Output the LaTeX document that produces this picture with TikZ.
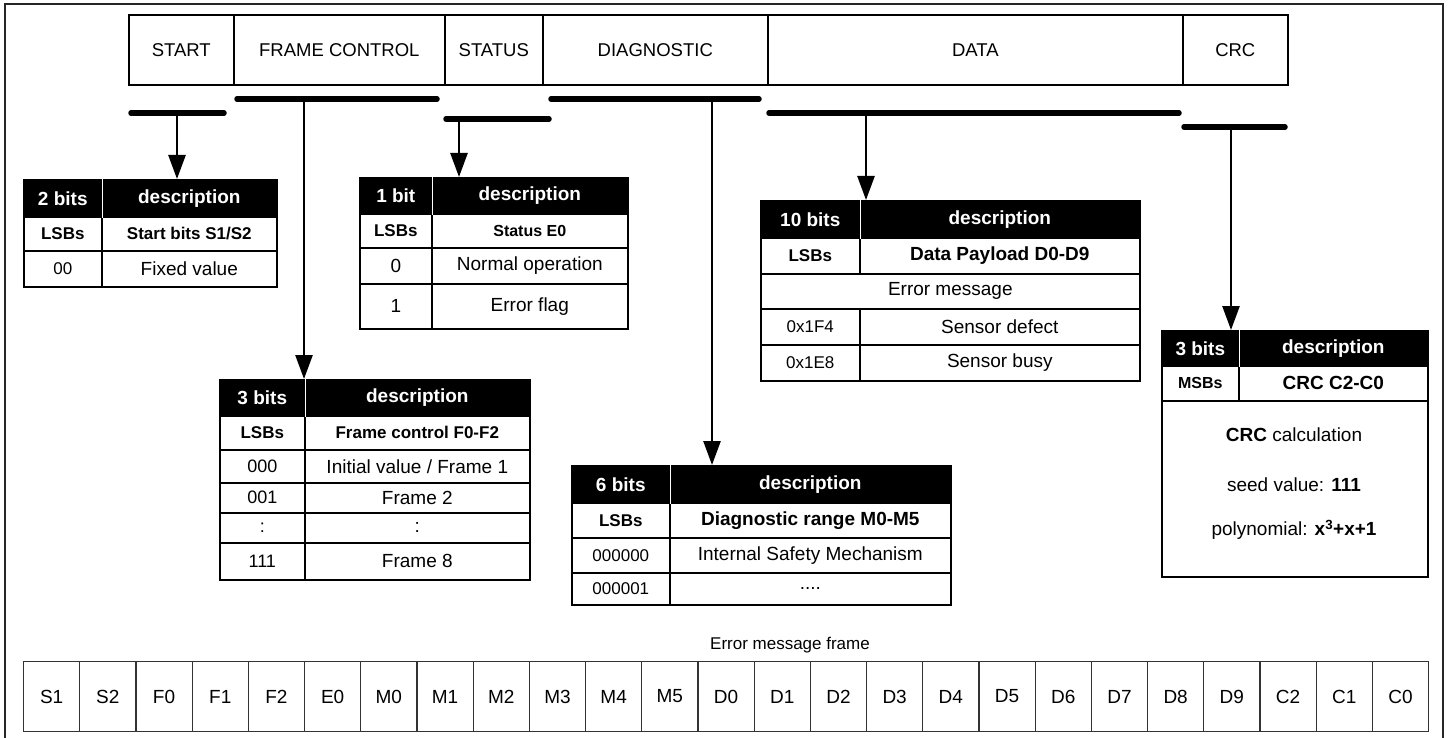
\documentclass[tikz,border=0pt]{standalone}
\usepackage{fontspec}
\setmainfont{Liberation Sans}
\usetikzlibrary{arrows.meta}
\newcommand\fs[1]{\fontsize{#1pt}{#1pt}\selectfont}
\newcommand\cell[7][]{\node[box,#1,minimum width={(#5-#3)*1pt},minimum height={(#6-#4)*1pt}] (#2) at (#3,#4) {#7};}
\tikzset{
  box/.style={draw=black, line width=1.6pt, inner sep=0pt, anchor=north west, font=\fs{19}},
  hdr/.style={fill=black, text=white, font=\fs{19}\bfseries},
  sub/.style={font=\fs{17}\bfseries},
  subb/.style={font=\fs{19}\bfseries},
  code/.style={font=\fs{17}},
  top/.style={box, line width=1.6pt, font=\fs{18.5}},
  bcell/.style={draw=black!80, line width=1.1pt, inner sep=0pt, anchor=north west, font=\fs{19}, minimum width=56.2pt, minimum height=70pt},
  bar/.style={line width=5.5pt, line cap=round},
  arr/.style={line width=2.6pt, -{Triangle[length=24pt,width=17pt]}},
  sep/.style={white, line width=1.4pt},
  txt/.style={font=\fs{19}, inner sep=0pt}
}
\begin{document}
\begin{tikzpicture}[x=1pt,y=-1pt]
\useasboundingbox (0,0) rectangle (1451,738);
% outer frame
\draw[black!85, line width=1.5pt] (5,738) -- (5,4) -- (1443,4) -- (1443,738);

% top header
\cell[top]{hStart}{128}{14}{233}{84}{START}
\cell[top]{hFrame}{233}{14}{444}{84}{FRAME CONTROL}
\cell[top]{hStatus}{444}{14}{542}{84}{STATUS}
\cell[top]{hDiag}{542}{14}{767}{84}{DIAGNOSTIC}
\cell[top]{hData}{767}{14}{1182}{84}{DATA}
\cell[top]{hCrc}{1182}{14}{1287}{84}{CRC}

% bars
\coordinate (sA) at (131,113); \coordinate (sB) at (224,113); \coordinate (sM) at (177,113);
\coordinate (fA) at (237,99);  \coordinate (fB) at (437,99);  \coordinate (fM) at (304,99);
\coordinate (tA) at (446,119); \coordinate (tB) at (549,119); \coordinate (tM) at (459,119);
\coordinate (dA) at (551,99);  \coordinate (dB) at (759,99);  \coordinate (dM) at (712,99);
\coordinate (aA) at (769,113); \coordinate (aB) at (1179,113); \coordinate (aM) at (866,113);
\coordinate (cA) at (1184,127); \coordinate (cB) at (1285,127); \coordinate (cM) at (1231,127);
\foreach \p in {s,f,t,d,a,c} \draw[bar] (\p A) -- (\p B);

% table 1: start
\cell[hdr]{t1a}{23}{179}{101}{216}{2 bits}
\cell[hdr]{t1b}{101}{179}{276}{216}{description}
\cell[sub]{t1c}{23}{216}{101}{250}{LSBs}
\cell[sub]{t1d}{101}{216}{276}{250}{Start bits S1/S2}
\cell[code]{t1e}{23}{250}{101}{286}{00}
\cell{t1f}{101}{250}{276}{286}{Fixed value}
\draw[sep] (t1a.north east) -- (t1a.south east);

% table 2: status
\cell[hdr]{t2a}{359}{177}{431}{213}{1 bit}
\cell[hdr]{t2b}{431}{177}{627}{213}{description}
\cell[sub]{t2c}{359}{213}{431}{247}{LSBs}
\cell[font=\fs{16}\bfseries]{t2d}{431}{213}{627}{247}{Status E0}
\cell{t2e}{359}{247}{431}{283}{0}
\cell{t2f}{431}{247}{627}{283}{Normal operation}
\cell{t2g}{359}{283}{431}{328}{1}
\cell{t2h}{431}{283}{627}{328}{Error flag}
\draw[sep] (t2a.north east) -- (t2a.south east);

% table 3: frame control
\cell[hdr]{t3a}{219}{379}{304}{415}{3 bits}
\cell[hdr]{t3b}{304}{379}{529}{415}{description}
\cell[sub]{t3c}{219}{415}{304}{449}{LSBs}
\cell[sub]{t3d}{304}{415}{529}{449}{Frame control F0-F2}
\cell[font=\fs{18}]{t3e}{219}{449}{304}{482}{000}
\cell{t3f}{304}{449}{529}{482}{Initial value / Frame 1}
\cell[font=\fs{18}]{t3g}{219}{482}{304}{512}{001}
\cell{t3h}{304}{482}{529}{512}{Frame 2}
\cell[font=\fs{18}]{t3i}{219}{512}{304}{542}{:}
\cell{t3j}{304}{512}{529}{542}{:}
\cell[font=\fs{18}]{t3k}{219}{542}{304}{579}{111}
\cell{t3l}{304}{542}{529}{579}{Frame 8}
\draw[sep] (t3a.north east) -- (t3a.south east);

% table 4: diagnostic
\cell[hdr]{t4a}{571}{465}{669}{502}{6 bits}
\cell[hdr]{t4b}{669}{465}{950}{502}{description}
\cell[sub]{t4c}{571}{502}{669}{537}{LSBs}
\cell[subb]{t4d}{669}{502}{950}{537}{Diagnostic range M0-M5}
\cell[code]{t4e}{571}{537}{669}{572}{000000}
\cell{t4f}{669}{537}{950}{572}{Internal Safety Mechanism}
\cell[code]{t4g}{571}{572}{669}{604}{000001}
\cell{t4h}{669}{572}{950}{604}{....}
\draw[sep] (t4a.north east) -- (t4a.south east);

% table 5: data
\cell[hdr]{t5a}{760}{200}{859}{237}{10 bits}
\cell[hdr]{t5b}{859}{200}{1139}{237}{description}
\cell[sub]{t5c}{760}{237}{859}{273}{LSBs}
\cell[subb]{t5d}{859}{237}{1139}{273}{Data Payload D0-D9}
\cell{t5e}{760}{273}{1139}{308}{Error message}
\cell[code]{t5f}{760}{308}{859}{344}{0x1F4}
\cell{t5g}{859}{308}{1139}{344}{Sensor defect}
\cell[code]{t5h}{760}{344}{859}{380}{0x1E8}
\cell{t5i}{859}{344}{1139}{380}{Sensor busy}
\draw[sep] (t5a.north east) -- (t5a.south east);

% table 6: crc
\cell[hdr]{t6a}{1161}{330}{1238}{365}{3 bits}
\cell[hdr]{t6b}{1238}{330}{1427}{365}{description}
\cell[font=\fs{16}\bfseries]{t6c}{1161}{365}{1238}{400}{MSBs}
\cell[subb]{t6d}{1238}{365}{1427}{400}{CRC C2-C0}
\cell{t6e}{1161}{400}{1427}{576}{}
\draw[sep] (t6a.north east) -- (t6a.south east);
\node[txt] (t6l1) at (1294,435) {\textbf{CRC} calculation};
\node[txt] (t6l2) at (1294,485) {seed value: \textbf{111}};
\node[txt] (t6l3) at (1294,530) {polynomial: \textbf{x\textsuperscript{3}+x+1}};

% arrows
\draw[arr] (sM) -- (sM |- t1b.north);
\draw[arr] (fM) -- (fM |- t3b.north);
\draw[arr] (tM) -- (tM |- t2b.north);
\draw[arr] (dM) -- (dM |- t4b.north);
\draw[arr] (aM) -- (aM |- t5b.north);
\draw[arr] (cM) -- (cM |- t6a.north);

% bottom frame
\node[font=\fs{17}, inner sep=0pt] (emf) at (790,645) {Error message frame};
\foreach \l [count=\i from 0] in {S1,S2,F0,F1,F2,E0,M0,M1,M2,M3,M4,M5,D0,D1,D2,D3,D4,D5,D6,D7,D8,D9,C2,C1,C0}
  \node[bcell] (b\i) at ({23+56.2*\i},661) {\l};
\end{tikzpicture}
\end{document}
